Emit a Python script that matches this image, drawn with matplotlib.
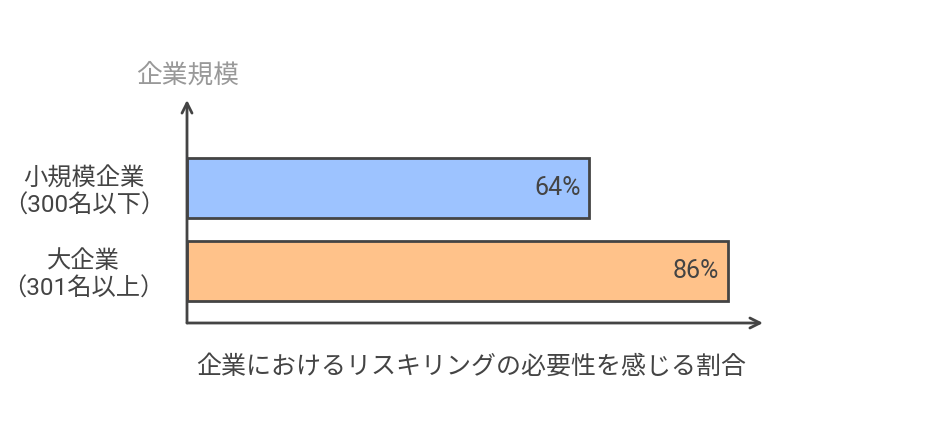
import matplotlib
matplotlib.use("Agg")
from matplotlib import pyplot as plt

plt.rcParams['font.family'] = ['Roboto', 'Noto Sans CJK JP', 'DejaVu Sans']

# data
categories = ["小規模企業\n（300名以下）", "大企業\n（301名以上）"]
values = [64, 86]
colors = ["#9dc3ff", "#ffc28a"]
y_pos = [1, 0]
x_title = "企業におけるリスキリングの必要性を感じる割合"
y_title = "企業規模"

fig = plt.figure(figsize=(9.39, 4.45), dpi=100)
# axes placed in pixels: left 187, right 763, bottom y=323, top y=100 (from top)
ax = fig.add_axes([187 / 939, 122 / 445, 576 / 939, 223 / 445])

ax.barh(y_pos, values, height=0.723, color=colors, edgecolor="#444444", linewidth=2, zorder=2)
for y, v in zip(y_pos, values):
    ax.text(v - 1.4, y, f"{v}%", ha="right", va="center", fontsize=18, color="#444444")

ax.set_xlim(0, 91.6)
ax.set_ylim(-0.627, 2.06)

for s in ax.spines.values():
    s.set_visible(False)
ax.set_xticks([])
ax.set_yticks(y_pos)
ax.set_yticklabels(categories, fontsize=17.5, color="#444444", ma="center", linespacing=1.25)
ax.tick_params(axis="y", length=0, pad=16)

# axis arrows
ax.annotate("", xy=(0, 1), xytext=(0, 0), xycoords="axes fraction",
            arrowprops=dict(arrowstyle="->", color="#444444", lw=2, mutation_scale=18, shrinkA=0, shrinkB=0))
ax.annotate("", xy=(1, 0), xytext=(0, 0), xycoords="axes fraction",
            arrowprops=dict(arrowstyle="->", color="#444444", lw=2, mutation_scale=18, shrinkA=0, shrinkB=0))

fig.text(188 / 939, 1 - 75 / 445, y_title, ha="center", va="center", fontsize=18.5, color="#999999")
fig.text(471 / 939, 1 - 367 / 445, x_title, ha="center", va="center", fontsize=18, color="#444444")

plt.savefig("out.png", dpi=100)
